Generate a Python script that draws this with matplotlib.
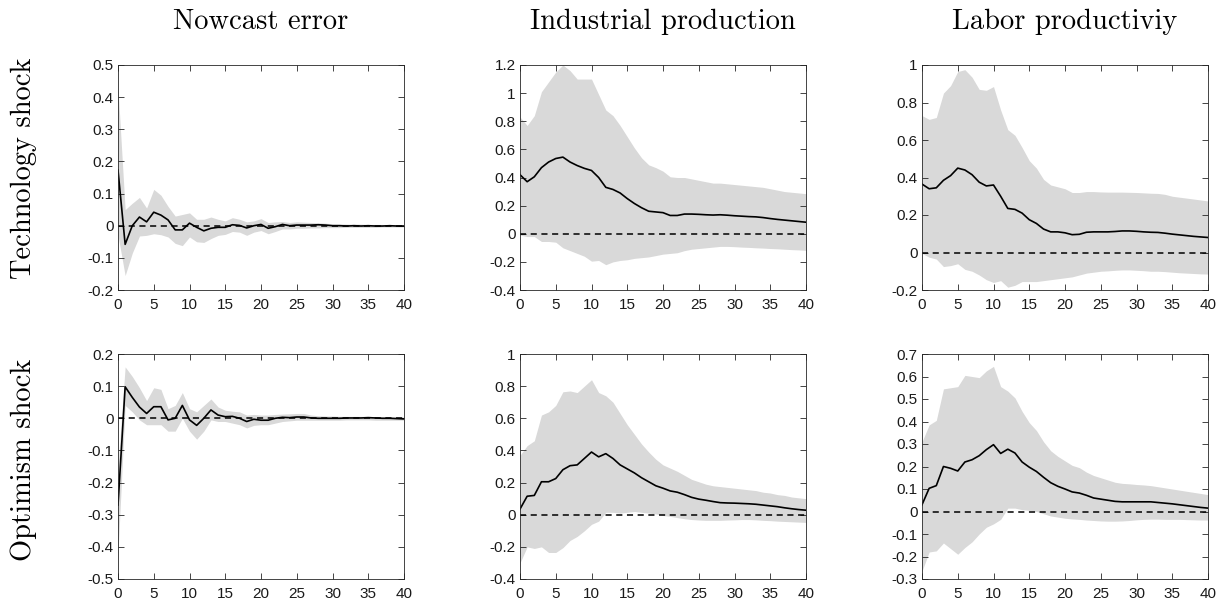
import numpy as np
import matplotlib
matplotlib.use("Agg")
import matplotlib.pyplot as plt
from matplotlib.ticker import FuncFormatter

# Horizons (quarters after the shock)
horizons = list(range(41))

# Technology shock -> nowcast error
tech_now_irf = [0.173, -0.058, 0.000, 0.027, 0.012, 0.042, 0.033, 0.018, -0.013, -0.013,
                0.008, -0.005, -0.016, -0.008, -0.005, -0.005, 0.003, 0.001, -0.007, 0.000,
                0.004, -0.008, -0.003, 0.004, 0.000, 0.002, 0.002, 0.002, 0.003, 0.002,
                0.000, 0.000, -0.001, 0.000, -0.001, 0.000, -0.001, -0.001, 0.000, -0.001,
                -0.001]
tech_now_hi = [0.43, 0.05, 0.07, 0.088, 0.055, 0.113, 0.095, 0.06, 0.03, 0.035,
               0.04, 0.02, 0.02, 0.027, 0.02, 0.015, 0.025, 0.02, 0.012, 0.015,
               0.022, 0.01, 0.012, 0.013, 0.01, 0.012, 0.011, 0.01, 0.009, 0.008,
               0.006, 0.006, 0.005, 0.005, 0.005, 0.004, 0.004, 0.004, 0.003, 0.003,
               0.003]
tech_now_lo = [-0.03, -0.155, -0.085, -0.032, -0.03, -0.025, -0.028, -0.035, -0.055, -0.062,
               -0.035, -0.05, -0.052, -0.04, -0.03, -0.027, -0.018, -0.02, -0.03, -0.02,
               -0.015, -0.025, -0.018, -0.01, -0.01, -0.008, -0.008, -0.007, -0.007, -0.006,
               -0.006, -0.006, -0.005, -0.005, -0.005, -0.005, -0.005, -0.004, -0.004, -0.004,
               -0.004]

# Technology shock -> industrial production
tech_ip_irf = [0.42, 0.37, 0.405, 0.47, 0.51, 0.535, 0.545, 0.51, 0.485, 0.465,
               0.45, 0.40, 0.33, 0.315, 0.29, 0.25, 0.215, 0.185, 0.16, 0.155,
               0.15, 0.13, 0.13, 0.14, 0.14, 0.138, 0.135, 0.133, 0.135, 0.132,
               0.128, 0.125, 0.122, 0.12, 0.115, 0.108, 0.102, 0.097, 0.092, 0.087,
               0.082]
tech_ip_hi = [0.83, 0.77, 0.84, 1.01, 1.08, 1.15, 1.20, 1.16, 1.10, 1.10,
              1.10, 0.99, 0.88, 0.84, 0.77, 0.69, 0.61, 0.54, 0.49, 0.47,
              0.445, 0.405, 0.40, 0.40, 0.39, 0.38, 0.37, 0.36, 0.36, 0.355,
              0.35, 0.345, 0.34, 0.335, 0.33, 0.32, 0.31, 0.30, 0.295, 0.29,
              0.285]
tech_ip_lo = [-0.01, -0.02, -0.02, -0.055, -0.055, -0.06, -0.10, -0.12, -0.14, -0.16,
              -0.195, -0.19, -0.22, -0.20, -0.19, -0.185, -0.175, -0.17, -0.165, -0.155,
              -0.145, -0.14, -0.135, -0.12, -0.11, -0.105, -0.10, -0.095, -0.09, -0.09,
              -0.092, -0.095, -0.097, -0.10, -0.102, -0.105, -0.107, -0.11, -0.113, -0.115,
              -0.118]

# Technology shock -> labor productivity
tech_lp_irf = [0.365, 0.34, 0.345, 0.385, 0.41, 0.45, 0.44, 0.415, 0.375, 0.355,
               0.36, 0.30, 0.235, 0.23, 0.21, 0.175, 0.155, 0.125, 0.11, 0.11,
               0.105, 0.095, 0.097, 0.108, 0.11, 0.11, 0.11, 0.112, 0.115, 0.115,
               0.113, 0.11, 0.108, 0.107, 0.103, 0.098, 0.094, 0.09, 0.086, 0.083,
               0.08]
tech_lp_hi = [0.73, 0.71, 0.72, 0.85, 0.89, 0.965, 0.975, 0.935, 0.87, 0.865,
              0.885, 0.76, 0.655, 0.625, 0.56, 0.49, 0.45, 0.39, 0.36, 0.35,
              0.34, 0.32, 0.32, 0.325, 0.325, 0.323, 0.322, 0.322, 0.322, 0.321,
              0.32, 0.318, 0.316, 0.315, 0.31, 0.30, 0.295, 0.29, 0.285, 0.28,
              0.275]
tech_lp_lo = [-0.005, -0.025, -0.035, -0.075, -0.07, -0.06, -0.09, -0.10, -0.12, -0.145,
              -0.16, -0.15, -0.185, -0.175, -0.155, -0.155, -0.155, -0.15, -0.145, -0.14,
              -0.135, -0.13, -0.12, -0.11, -0.105, -0.10, -0.098, -0.095, -0.093, -0.093,
              -0.095, -0.097, -0.10, -0.10, -0.102, -0.105, -0.108, -0.11, -0.112, -0.114,
              -0.115]

# Optimism shock -> nowcast error
opt_now_irf = [-0.27, 0.098, 0.065, 0.035, 0.015, 0.036, 0.036, -0.005, 0.0, 0.04,
               -0.005, -0.022, 0.0, 0.026, 0.01, 0.005, 0.006, 0.0, -0.01, -0.003,
               -0.006, -0.006, 0.0, 0.003, 0.002, 0.004, 0.004, 0.001, 0.0, 0.0,
               0.0, 0.0, 0.001, 0.001, 0.001, 0.002, 0.001, 0.0, 0.0, -0.001,
               -0.002]
opt_now_hi = [-0.15, 0.16, 0.13, 0.095, 0.055, 0.095, 0.09, 0.03, 0.04, 0.08,
              0.03, 0.02, 0.04, 0.06, 0.035, 0.025, 0.022, 0.02, 0.01, 0.012,
              0.01, 0.01, 0.012, 0.013, 0.014, 0.015, 0.015, 0.01, 0.008, 0.007,
              0.007, 0.006, 0.006, 0.006, 0.006, 0.006, 0.005, 0.005, 0.005, 0.004,
              0.004]
opt_now_lo = [-0.42, 0.04, 0.02, -0.005, -0.02, -0.02, -0.02, -0.04, -0.04, 0.0,
              -0.04, -0.065, -0.04, -0.005, -0.01, -0.01, -0.015, -0.02, -0.03, -0.022,
              -0.02, -0.02, -0.015, -0.01, -0.008, -0.006, -0.006, -0.006, -0.006, -0.006,
              -0.006, -0.006, -0.005, -0.005, -0.005, -0.005, -0.006, -0.006, -0.006, -0.006,
              -0.006]

# Optimism shock -> industrial production
opt_ip_irf = [0.035, 0.115, 0.12, 0.205, 0.205, 0.225, 0.28, 0.305, 0.31, 0.35,
              0.39, 0.36, 0.38, 0.35, 0.31, 0.285, 0.26, 0.23, 0.205, 0.18,
              0.165, 0.148, 0.14, 0.125, 0.108, 0.097, 0.09, 0.082, 0.075, 0.073,
              0.072, 0.07, 0.068, 0.065, 0.06, 0.055, 0.05, 0.043, 0.037, 0.032,
              0.028]
opt_ip_hi = [0.37, 0.43, 0.46, 0.62, 0.64, 0.68, 0.765, 0.77, 0.76, 0.80,
             0.84, 0.76, 0.74, 0.70, 0.63, 0.56, 0.50, 0.44, 0.39, 0.345,
             0.31, 0.29, 0.27, 0.245, 0.22, 0.205, 0.19, 0.18, 0.175, 0.17,
             0.165, 0.16, 0.155, 0.15, 0.14, 0.135, 0.125, 0.12, 0.11, 0.105,
             0.10]
opt_ip_lo = [-0.30, -0.20, -0.21, -0.20, -0.235, -0.235, -0.205, -0.16, -0.135, -0.10,
             -0.06, -0.04, 0.015, 0.015, 0.01, 0.015, 0.02, 0.015, 0.01, 0.005,
             -0.005, -0.01, -0.018, -0.025, -0.03, -0.033, -0.035, -0.035, -0.035, -0.033,
             -0.032, -0.03, -0.03, -0.032, -0.035, -0.037, -0.04, -0.042, -0.044, -0.046,
             -0.048]

# Optimism shock -> labor productivity
opt_lp_irf = [0.03, 0.103, 0.115, 0.20, 0.192, 0.18, 0.22, 0.23, 0.248, 0.275,
              0.297, 0.258, 0.277, 0.26, 0.22, 0.197, 0.178, 0.152, 0.128, 0.112,
              0.10, 0.087, 0.082, 0.072, 0.06, 0.055, 0.05, 0.045, 0.043, 0.043,
              0.043, 0.043, 0.043, 0.04, 0.037, 0.034, 0.03, 0.026, 0.022, 0.018,
              0.015]
opt_lp_hi = [0.31, 0.385, 0.405, 0.545, 0.55, 0.555, 0.605, 0.60, 0.595, 0.625,
             0.645, 0.555, 0.535, 0.505, 0.445, 0.395, 0.36, 0.31, 0.27, 0.245,
             0.225, 0.205, 0.195, 0.175, 0.16, 0.15, 0.14, 0.13, 0.125, 0.123,
             0.12, 0.118, 0.115, 0.11, 0.105, 0.10, 0.095, 0.09, 0.085, 0.08,
             0.075]
opt_lp_lo = [-0.265, -0.18, -0.175, -0.14, -0.165, -0.19, -0.16, -0.135, -0.10, -0.07,
             -0.055, -0.035, 0.015, 0.015, 0.008, 0.005, 0.0, -0.01, -0.02, -0.025,
             -0.03, -0.033, -0.035, -0.038, -0.04, -0.042, -0.043, -0.043, -0.042, -0.04,
             -0.037, -0.035, -0.034, -0.034, -0.035, -0.035, -0.035, -0.036, -0.037, -0.038,
             -0.038]

column_titles = ["Nowcast error", "Industrial production", "Labor productiviy"]
row_titles = ["Technology shock", "Optimism shock"]

# y axis settings per panel: (ymin, ymax, step)
y_settings = [[(-0.2, 0.5, 0.1), (-0.4, 1.2, 0.2), (-0.2, 1.0, 0.2)],
              [(-0.5, 0.2, 0.1), (-0.4, 1.0, 0.2), (-0.3, 0.7, 0.1)]]

panels = [[(tech_now_irf, tech_now_lo, tech_now_hi),
           (tech_ip_irf, tech_ip_lo, tech_ip_hi),
           (tech_lp_irf, tech_lp_lo, tech_lp_hi)],
          [(opt_now_irf, opt_now_lo, opt_now_hi),
           (opt_ip_irf, opt_ip_lo, opt_ip_hi),
           (opt_lp_irf, opt_lp_lo, opt_lp_hi)]]

plt.rcParams['axes.unicode_minus'] = False
plt.rcParams['font.family'] = 'Liberation Sans'

W, H = 1226, 608
fig = plt.figure(figsize=(W / 100, H / 100), dpi=100)

lefts = [118, 520, 922]
tops = [65, 354]
ax_w, ax_h = 286, 225
axis_color = '#262626'


def fmt(v, pos):
    v = round(v, 2)
    if abs(v) < 1e-9:
        return '0'
    return f'{v:g}'


for r in range(2):
    for c in range(3):
        irf, lo, hi = panels[r][c]
        ymin, ymax, step = y_settings[r][c]
        ax = fig.add_axes([lefts[c] / W, 1 - (tops[r] + ax_h) / H, ax_w / W, ax_h / H])

        # confidence band, zero line and the point estimate
        ax.fill_between(horizons, lo, hi, color='#d9d9d9', linewidth=0)
        ax.axhline(0, color='black', linestyle=(0, (4, 3)), linewidth=1.1)
        ax.plot(horizons, irf, color='black', linewidth=1.2)

        ax.set_xlim(0, 40)
        ax.set_ylim(ymin, ymax)
        ax.set_xticks(range(0, 41, 5))
        ax.set_yticks(np.arange(ymin, ymax + step / 2, step))
        ax.yaxis.set_major_formatter(FuncFormatter(fmt))
        ax.tick_params(direction='in', top=True, right=True, length=4, width=0.6,
                       color=axis_color, labelsize=11, labelcolor='#1a1a1a')
        ax.tick_params(axis='x', pad=6)
        ax.tick_params(axis='y', pad=3)
        for s in ax.spines.values():
            s.set_color(axis_color)
            s.set_linewidth(0.6)

        if r == 0:
            fig.text((lefts[c] + ax_w / 2) / W, 1 - 29 / H, column_titles[c],
                     family='cmr10', fontsize=20.5, ha='center', va='baseline')

# row labels on the left
for r, ypix in enumerate([168, 460]):
    fig.text(24 / W, 1 - ypix / H, row_titles[r], family='cmr10', fontsize=20.5,
             rotation=90, ha='center', va='center')

plt.savefig("out.png", dpi=100)
